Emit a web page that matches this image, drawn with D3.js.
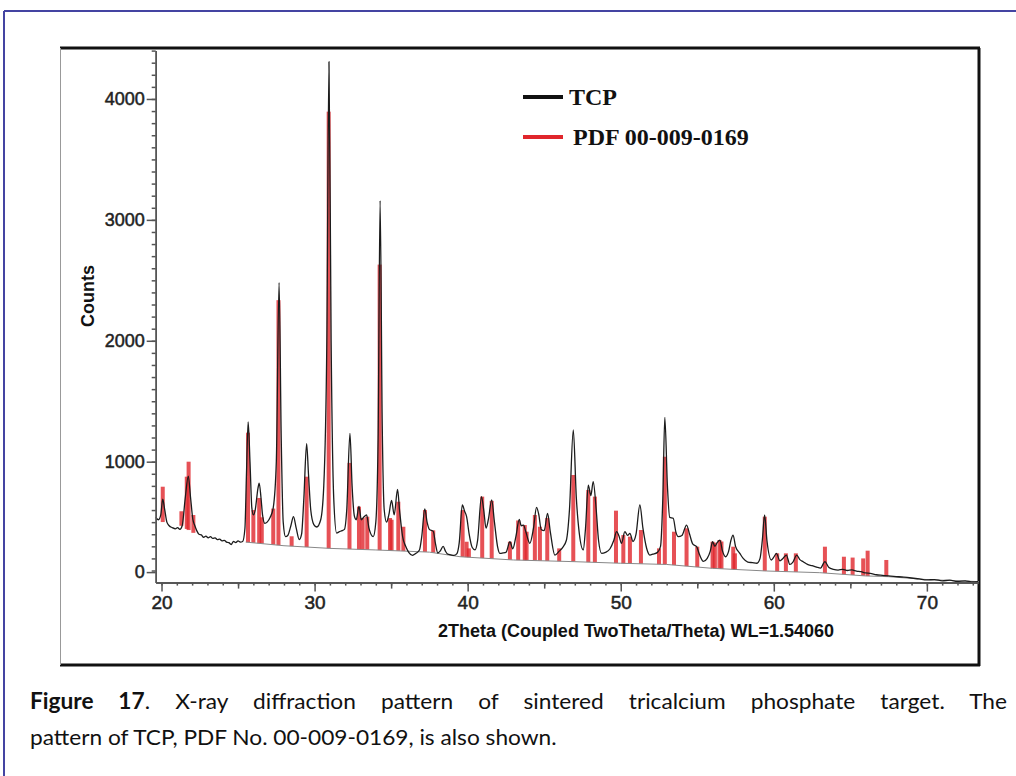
<!DOCTYPE html>
<html><head><meta charset="utf-8">
<script src="https://cdn.jsdelivr.net/npm/d3@7/dist/d3.min.js"></script>
<style>body{margin:0;background:#fff} svg{display:block}</style>
</head><body>
<svg id="c" width="1016" height="776"></svg>
<script>
// ---- data ----
const tcpTheta = [19.62,19.8,19.95,20.08,20.2,20.35,20.5,20.7,20.9,21.05,21.2,21.35,21.55,21.75,21.9,22.05,22.15,22.3,22.45,22.6,22.75,22.9,23.05,23.2,23.35,23.5,23.65,23.8,23.95,24.1,24.25,24.4,24.55,24.7,24.85,25.0,25.15,25.3,25.45,25.55,25.66,25.78,25.9,26.0,26.12,26.3,26.38,26.5,26.6,26.75,26.9,27.1,27.3,27.5,27.68,27.82,27.95,28.1,28.25,28.45,28.62,28.8,29.0,29.15,29.3,29.48,29.6,29.75,29.95,30.14,30.4,30.6,30.8,30.94,31.08,31.25,31.44,31.6,31.8,31.95,32.1,32.31,32.45,32.6,32.72,32.9,33.05,33.2,33.4,33.55,33.83,34.0,34.15,34.28,34.42,34.55,34.7,34.85,35.03,35.2,35.42,35.55,35.75,35.95,36.15,36.4,36.6,36.85,37.0,37.2,37.35,37.5,37.75,37.9,38.05,38.2,38.4,38.55,38.7,38.9,39.1,39.3,39.45,39.65,39.8,39.93,40.1,40.3,40.48,40.65,40.9,41.05,41.2,41.35,41.57,41.75,41.95,42.1,42.3,42.5,42.76,42.95,43.15,43.37,43.5,43.65,43.8,44.06,44.3,44.5,44.65,44.8,45.0,45.22,45.4,45.7,45.98,46.2,46.45,46.65,46.9,47.1,47.3,47.55,47.7,47.88,48.05,48.2,48.4,48.55,48.75,49.0,49.3,49.55,49.73,49.9,50.05,50.27,50.45,50.6,50.8,51.0,51.25,51.45,51.7,51.9,52.1,52.4,52.6,52.75,52.88,53.05,53.2,53.43,53.6,53.76,54.0,54.3,54.5,54.7,54.96,55.15,55.4,55.65,55.85,56.0,56.15,56.3,56.48,56.65,56.85,57.05,57.2,57.34,57.5,57.78,58.0,58.3,58.6,58.9,59.1,59.25,59.4,59.55,59.84,60.0,60.17,60.4,60.6,60.82,61.05,61.25,61.5,61.7,61.92,62.2,62.5,62.8,63.05,63.34,63.6,63.9,64.2,64.5,64.8,65.1,65.4,65.7,66.0,66.3,66.7,67.1,67.5,68.0,68.5,69.0,69.5,70.0,70.5,71.0,71.5,72.0,72.5,73.0,73.34];
const tcpCounts = [540,520,560,690,610,500,470,455,445,455,440,470,700,880,700,520,480,430,400,395,375,385,370,380,365,370,355,360,345,350,335,330,315,340,330,345,335,340,450,900,1330,1000,620,560,600,780,823,700,560,490,500,540,620,1000,2480,1200,500,380,390,470,545,450,355,400,700,1150,900,600,480,460,520,800,2000,4308,2000,700,410,420,430,440,600,1235,800,550,520,630,520,540,560,450,380,500,1200,3160,1300,600,500,560,680,560,770,600,380,300,250,225,240,270,380,610,500,440,425,320,245,260,300,260,235,230,225,240,330,642,590,545,400,290,270,350,710,600,450,520,683,500,300,242,245,250,338,280,380,523,470,476,420,325,450,622,560,440,430,573,420,228,260,290,350,600,1262,700,400,270,450,807,720,835,600,350,242,250,280,350,421,380,325,421,390,407,340,400,642,450,280,228,235,250,300,700,1367,800,540,532,420,380,390,476,400,320,297,230,175,200,260,338,300,330,352,260,214,260,350,393,300,242,200,170,165,160,200,350,559,350,187,210,242,180,200,228,150,170,228,190,173,150,140,128,120,173,125,110,104,110,100,105,95,90,80,77,65,60,55,50,45,38,30,22,25,15,20,10,15,5,8];
const pdfTheta = [20.08,21.3,21.65,21.77,22.08,25.65,26.0,26.38,26.55,27.3,27.64,28.5,29.48,30.92,32.28,32.9,33.14,33.44,34.25,34.93,35.03,35.47,35.8,37.21,37.75,39.67,39.93,40.08,40.95,41.57,42.76,43.3,43.73,43.85,44.39,44.72,45.2,45.98,46.9,47.88,48.31,49.69,50.17,50.6,51.32,52.5,52.88,53.48,54.3,55.0,56.0,56.15,56.45,56.58,57.35,57.46,59.41,60.22,60.79,61.44,63.34,64.58,65.15,65.84,66.13,67.35];
const pdfCounts = [793,590,876,1000,559,1240,600,700,540,612,2336,383,876,3895,990,628,534,545,2630,534,520,669,462,600,432,600,338,283,711,676,338,514,476,421,559,462,534,283,890,766,711,595,393,380,435,283,1041,421,449,297,338,330,352,340,297,242,545,242,242,242,297,214,207,200,264,187];
const bgTheta = [19.6,20.1,21.3,22.1,23,25.5,28,31,34,37.5,39.5,43,47,50,53,56,59.5,63,66,67.5,70,73.4];
const bgCounts = [520,500,470,410,360,335,305,283,270,252,214,187,173,160,150,118,96,82,55,49,25,8];
const xTickValues = [20,30,40,50,60,70];
const yTickValues = [0,1000,2000,3000,4000];
const legendLabels = ["TCP","PDF 00-009-0169"];
const legendColors = ["#111111","#e0262c"];

// ---- layout ----
const svg = d3.select("#c");
svg.append("rect").attr("width",1016).attr("height",776).attr("fill","#fff");

// outer blue frame
svg.append("line").attr("x1",4).attr("x2",1016).attr("y1",11).attr("y2",11).attr("stroke","#4444a2").attr("stroke-width",2);
svg.append("line").attr("x1",4).attr("x2",4).attr("y1",11).attr("y2",776).attr("stroke","#4444a2").attr("stroke-width",2);

// chart box
svg.append("line").attr("x1",60).attr("x2",980).attr("y1",48).attr("y2",48).attr("stroke","#111").attr("stroke-width",3);
svg.append("line").attr("x1",979).attr("x2",979).attr("y1",48).attr("y2",666).attr("stroke","#111").attr("stroke-width",3);
svg.append("line").attr("x1",60).attr("x2",980).attr("y1",665).attr("y2",665).attr("stroke","#111").attr("stroke-width",3);
svg.append("line").attr("x1",60.5).attr("x2",60.5).attr("y1",48).attr("y2",665).attr("stroke","#999").attr("stroke-width",1);

const x = d3.scaleLinear().domain([19.62,73.34]).range([155.7,978]);
const y = d3.scaleLinear().domain([0,4400]).range([582.6,50.6]);
const bg = d3.scaleLinear().domain(bgTheta).range(bgCounts);

const plot = svg.append("g");

// PDF sticks
plot.selectAll("rect.stick").data(pdfTheta.map((t,i)=>({t, c:pdfCounts[i]})))
  .join("rect").attr("class","stick")
  .attr("x",d=>x(d.t)-2).attr("width",4)
  .attr("y",d=>y(d.c)).attr("height",d=>y(bg(d.t))-y(d.c))
  .attr("fill","#e0262c").attr("fill-opacity",0.8);

// background line
const bgPts = bgTheta.map((t,i)=>[t,bgCounts[i]]).filter(p=>p[0]>=25);
plot.append("path").datum(bgPts)
  .attr("d",d3.line().x(d=>x(d[0])).y(d=>y(d[1])))
  .attr("fill","none").attr("stroke","#888").attr("stroke-width",1);

// TCP pattern
plot.append("path").datum(tcpTheta.map((t,i)=>[t,tcpCounts[i]]))
  .attr("d",d3.line().x(d=>x(d[0])).y(d=>y(d[1])).curve(d3.curveMonotoneX))
  .attr("fill","none").attr("stroke","#1c1c1c").attr("stroke-width",1.3).attr("stroke-linejoin","round");

// axes
const axisFont = "'Liberation Sans', Arial, sans-serif";
const yMinor = svg.append("g").attr("transform","translate(155.7,0)")
  .call(d3.axisLeft(y).tickValues(d3.range(0,4401,100)).tickSize(4).tickSizeOuter(0).tickFormat(""));
const yAxis = svg.append("g").attr("transform","translate(155.7,0)")
  .call(d3.axisLeft(y).tickValues(yTickValues).tickSize(9).tickSizeOuter(0).tickPadding(2).tickFormat(d3.format("d")));
yAxis.selectAll(".tick").filter(d=>d===0).attr("transform",`translate(0,${y(0)-10})`);
yMinor.selectAll(".tick").filter(d=>d===0).remove();
[yMinor,yAxis].forEach(g=>{g.selectAll("line,path").attr("stroke","#555").attr("stroke-width",1.5);});
yAxis.selectAll("text").attr("font-family",axisFont).attr("font-size",18).attr("fill","#222")
  .attr("stroke","#222").attr("stroke-width",0.5);

const xMinor = svg.append("g").attr("transform","translate(0,582.6)")
  .call(d3.axisBottom(x).tickValues(d3.range(20,74,1)).tickSize(3).tickSizeOuter(0).tickFormat(""));
const xMid = svg.append("g").attr("transform","translate(0,582.6)")
  .call(d3.axisBottom(x).tickValues(d3.range(25,74,10)).tickSize(6).tickSizeOuter(0).tickFormat(""));
const xAxis = svg.append("g").attr("transform","translate(0,582.6)")
  .call(d3.axisBottom(x).tickValues(xTickValues).tickSize(9).tickSizeOuter(0).tickPadding(4).tickFormat(d3.format("d")));
[xMinor,xMid,xAxis].forEach(g=>{g.selectAll("line,path").attr("stroke","#555").attr("stroke-width",1.5);});
xAxis.selectAll("text").attr("font-family",axisFont).attr("font-size",19).attr("fill","#222")
  .attr("stroke","#222").attr("stroke-width",0.5);

// axis titles
svg.append("text").attr("transform","translate(94,296) rotate(-90)").attr("text-anchor","middle")
  .attr("font-family",axisFont).attr("font-weight","bold").attr("font-size",18).attr("fill","#111").text("Counts");
svg.append("text").attr("x",636).attr("y",637).attr("text-anchor","middle")
  .attr("font-family",axisFont).attr("font-weight","bold").attr("font-size",18).attr("fill","#111")
  .text("2Theta (Coupled TwoTheta/Theta) WL=1.54060");

// legend
const leg = svg.append("g");
legendLabels.forEach((lab,i)=>{
  const yy = 97 + i*40;
  leg.append("line").attr("x1",523).attr("x2",563).attr("y1",yy).attr("y2",yy)
    .attr("stroke",legendColors[i]).attr("stroke-width",4);
  leg.append("text").attr("x",569+i*4).attr("y",yy+8)
    .attr("font-family","'Liberation Serif','Times New Roman',serif").attr("font-weight","bold")
    .attr("font-size",24).attr("fill","#111").text(lab);
});

// caption
const cap = svg.append("g").attr("font-family","Lato, 'Open Sans', sans-serif").attr("font-size",22).attr("fill","#111");
const l1 = cap.append("text").attr("x",0).attr("y",0);
l1.append("tspan").attr("font-weight","bold").text("Figure 17");
l1.append("tspan").text(". X-ray diffraction pattern of sintered tricalcium phosphate target. The");
const l2 = cap.append("text").attr("x",0).attr("y",36).text("pattern of TCP, PDF No. 00-009-0169, is also shown.");
const w2 = l2.node().getComputedTextLength();
const kx = 527 / w2;
cap.attr("transform",`translate(30,709) scale(${kx},1)`);
const w1 = l1.node().getComputedTextLength();
l1.attr("word-spacing", Math.max(0,(977/kx - w1)/10));
</script>
</body></html>
